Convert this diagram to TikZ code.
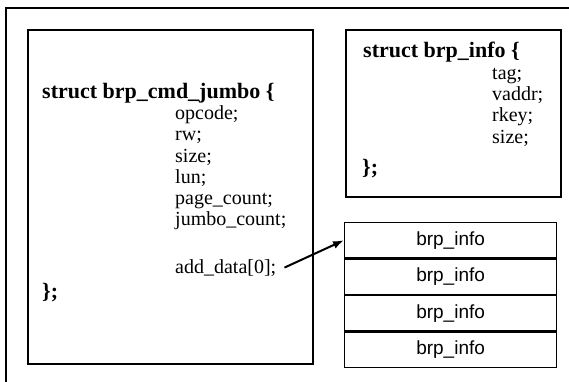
\documentclass[tikz,border=0pt]{standalone}
\usepackage{fontspec}
\setmainfont{Liberation Serif}
\newfontfamily\sansarial{Liberation Sans}
\usetikzlibrary{arrows.meta}
\begin{document}
\begin{tikzpicture}[x=1pt,y=-1pt,
  frame/.style={draw, line width=1.5pt},
  structbox/.style={draw, line width=2.4pt, anchor=north west, inner sep=0pt},
  rowbox/.style={draw, line width=1.2pt, anchor=north west, minimum width=212pt, minimum height=35.25pt, inner sep=0pt, font=\sansarial\fontsize{19}{22}\selectfont},
  head/.style={anchor=base west, inner sep=0pt, font=\bfseries\fontsize{22}{26}\selectfont},
  field/.style={anchor=base west, inner sep=0pt, font=\fontsize{20}{24}\selectfont},
  ptr/.style={-{Latex[length=11pt,width=8pt]}, line width=2pt}]
\useasboundingbox (0,0) rectangle (569,382);
\clip (0,0) rectangle (569,382);
\fill[white] (0,0) rectangle (569,382);
\draw[frame] (6,8) rectangle (600,420);
% struct boxes
\node[structbox, minimum width=285pt, minimum height=334pt] (cmdbox) at (27,29) {};
\node[structbox, minimum width=215pt, minimum height=167pt] (infobox) at (345,29) {};
% brp_cmd_jumbo text
\node[head] (cmdtitle) at (42,99) {struct brp\_cmd\_jumbo \{};
\node[field] (opcode) at (175,120) {opcode;};
\node[field] (rw) at (175,141) {rw;};
\node[field] (csize) at (175,162) {size;};
\node[field] (lun) at (175,183) {lun;};
\node[field] (pagecount) at (175,204) {page\_count;};
\node[field] (jumbocount) at (175,225) {jumbo\_count;};
\node[field] (add) at (175,273) {add\_data[0];};
\node[head] (cmdend) at (42,298) {\};};
% brp_info text
\node[head] (infotitle) at (363,58) {struct brp\_info \{};
\node[field] (tag) at (492,80) {tag;};
\node[field] (vaddr) at (492,101) {vaddr;};
\node[field] (rkey) at (492,122) {rkey;};
\node[field] (isize) at (492,143) {size;};
\node[head] (infoend) at (362,174) {\};};
% array of brp_info
\node[rowbox] (r1) at (344,222) {brp\_info};
\node[rowbox, anchor=north] (r2) at (r1.south) {brp\_info};
\node[rowbox, anchor=north] (r3) at (r2.south) {brp\_info};
\node[rowbox, anchor=north] (r4) at (r3.south) {brp\_info};
% pointer
\coordinate (ptrstart) at ([xshift=8pt]add.east);
\draw[ptr] (ptrstart) -- (r1.west);
\end{tikzpicture}
\end{document}
